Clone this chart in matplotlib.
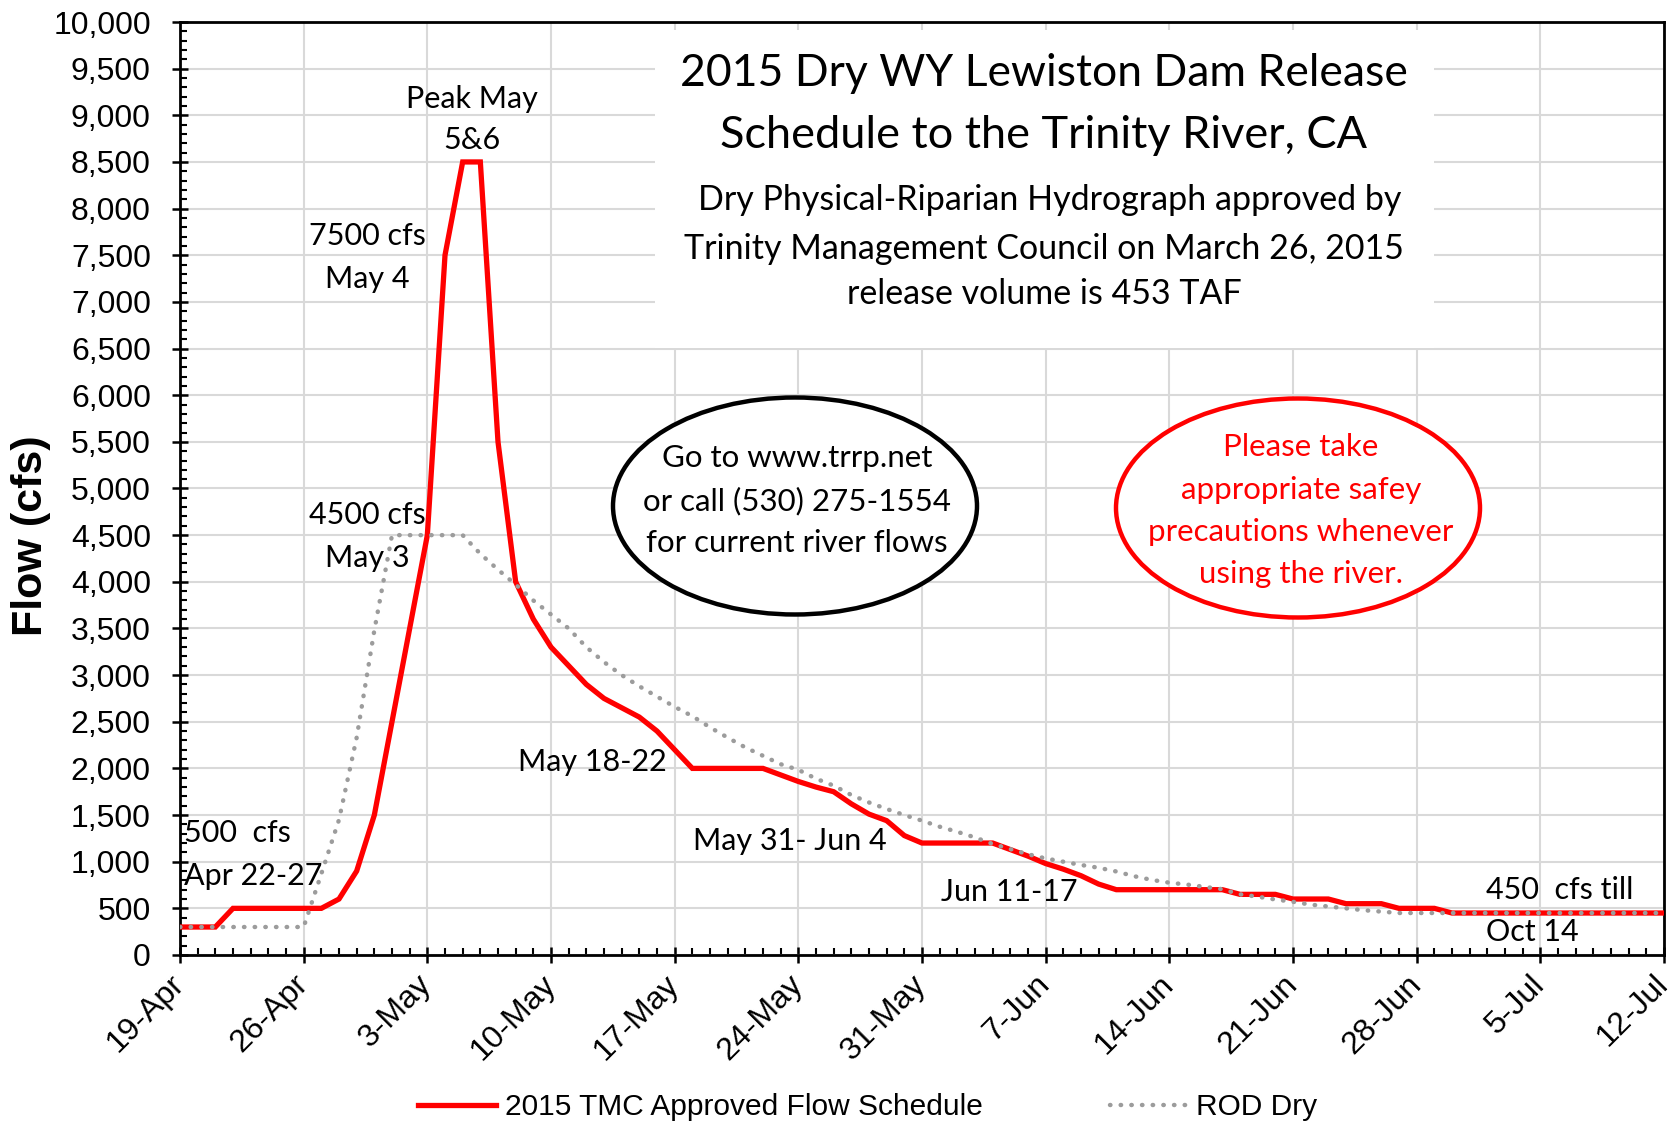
import matplotlib
matplotlib.use("Agg")
import matplotlib.pyplot as plt
import matplotlib.dates as mdates
from matplotlib.patches import Ellipse, Rectangle
from matplotlib.ticker import MultipleLocator, FuncFormatter
import pandas as pd

# 2015 TMC approved schedule (breakpoints, cfs)
red_dates = ["2015-04-19", "2015-04-21", "2015-04-22", "2015-04-27", "2015-04-28",
             "2015-04-29", "2015-04-30", "2015-05-01", "2015-05-02", "2015-05-03",
             "2015-05-04", "2015-05-05", "2015-05-06", "2015-05-07", "2015-05-08",
             "2015-05-09", "2015-05-10", "2015-05-11", "2015-05-12", "2015-05-13",
             "2015-05-14", "2015-05-15", "2015-05-16", "2015-05-17", "2015-05-18",
             "2015-05-22", "2015-05-23", "2015-05-24", "2015-05-25", "2015-05-26",
             "2015-05-27", "2015-05-28", "2015-05-29", "2015-05-30", "2015-05-31",
             "2015-06-04", "2015-06-05", "2015-06-06", "2015-06-07", "2015-06-08",
             "2015-06-09", "2015-06-10", "2015-06-11", "2015-06-17", "2015-06-18",
             "2015-06-20", "2015-06-21", "2015-06-23", "2015-06-24", "2015-06-26",
             "2015-06-27", "2015-06-29", "2015-06-30", "2015-07-12"]
red_flow = [300, 300, 500, 500, 600,
            900, 1500, 2500, 3500, 4500,
            7500, 8500, 8500, 5500, 4000,
            3600, 3300, 3100, 2900, 2750,
            2650, 2550, 2400, 2200, 2000,
            2000, 1930, 1860, 1800, 1750,
            1620, 1510, 1440, 1280, 1200,
            1200, 1130, 1060, 980, 920,
            850, 760, 700, 700, 650,
            650, 600, 600, 550, 550,
            500, 500, 450, 450]

# ROD Dry hydrograph (cfs)
rod_dates = ["2015-04-19", "2015-04-26", "2015-04-27", "2015-04-28", "2015-04-29",
             "2015-04-30", "2015-05-01", "2015-05-05", "2015-05-06", "2015-05-07",
             "2015-05-08", "2015-05-09", "2015-05-10", "2015-05-11", "2015-05-12",
             "2015-05-13", "2015-05-14", "2015-05-15", "2015-05-16", "2015-05-17",
             "2015-05-18", "2015-05-19", "2015-05-20", "2015-05-21", "2015-05-22",
             "2015-05-23", "2015-05-24", "2015-05-25", "2015-05-26", "2015-05-27",
             "2015-05-28", "2015-05-29", "2015-05-30", "2015-05-31", "2015-06-01",
             "2015-06-02", "2015-06-03", "2015-06-04", "2015-06-05", "2015-06-06",
             "2015-06-07", "2015-06-08", "2015-06-09", "2015-06-10", "2015-06-11",
             "2015-06-12", "2015-06-13", "2015-06-14", "2015-06-15", "2015-06-16",
             "2015-06-17", "2015-06-18", "2015-06-19", "2015-06-20", "2015-06-21",
             "2015-06-22", "2015-06-23", "2015-06-24", "2015-06-25", "2015-06-26",
             "2015-06-27", "2015-07-12"]
rod_flow = [300, 300, 870, 1450, 2330,
            3480, 4500, 4500, 4300, 4130,
            3970, 3800, 3650, 3500, 3300,
            3140, 3000, 2880, 2770, 2660,
            2560, 2440, 2330, 2225, 2135,
            2045, 1985, 1890, 1815, 1715,
            1635, 1565, 1500, 1440, 1375,
            1320, 1260, 1190, 1135, 1080,
            1035, 1000, 965, 935, 895,
            845, 805, 775, 755, 730,
            705, 650, 625, 595, 570,
            540, 520, 500, 480, 465,
            450, 450]

W, H = 1678, 1125
AX_FONT = "Liberation Sans"
TXT_FONT = "Lato"


def fx(px):
    return px / W


def fy(py):
    return 1 - py / H


fig = plt.figure(figsize=(W / 100, H / 100), dpi=100)
ax = fig.add_axes([fx(180), fy(955), fx(1664) - fx(180), fy(22) - fy(955)])

ax.plot(pd.to_datetime(red_dates), red_flow, color="#ff0000", lw=3.8,
        solid_joinstyle="miter", zorder=4, label="2015 TMC Approved Flow Schedule")
ax.plot(pd.to_datetime(rod_dates), rod_flow, color="#9c9c9c", lw=3.2,
        linestyle=(0, (0.1, 2.3)), dash_capstyle="round", zorder=5, label="ROD Dry")

ax.set_xlim(pd.Timestamp("2015-04-19"), pd.Timestamp("2015-07-12"))
ax.set_ylim(0, 10000)

ax.xaxis.set_major_locator(mdates.WeekdayLocator(byweekday=mdates.SU))
ax.xaxis.set_minor_locator(mdates.DayLocator())
ax.xaxis.set_major_formatter(mdates.DateFormatter("%-d-%b"))
ax.yaxis.set_major_locator(MultipleLocator(500))
ax.yaxis.set_minor_locator(MultipleLocator(100))
ax.yaxis.set_major_formatter(FuncFormatter(lambda v, p: f"{int(v):,}"))

ax.grid(True, which="major", color="#d9d9d9", lw=1.5)
ax.set_axisbelow(True)
for s in ax.spines.values():
    s.set_linewidth(2)
ax.tick_params(which="major", direction="inout", length=12, width=1.8, labelsize=23)
ax.tick_params(axis="y", which="major", pad=15)
ax.tick_params(axis="x", which="major", pad=12)
ax.tick_params(which="minor", direction="in", length=5, width=1.5)
for lab in ax.get_yticklabels() + ax.get_xticklabels():
    lab.set_fontfamily(AX_FONT)
plt.setp(ax.get_xticklabels(), rotation=45, ha="right", va="center", rotation_mode="anchor")

ax.set_ylabel("Flow (cfs)", fontsize=31, fontweight="bold", family=AX_FONT)
ax.yaxis.set_label_coords(-0.087, 0.449)

# title block with white background
fig.patches.append(Rectangle((fx(655), fy(348)), fx(1434) - fx(655), fy(30) - fy(348),
                             transform=fig.transFigure, facecolor="white",
                             edgecolor="none", zorder=1))
ax.set_zorder(0)
fig.text(fx(1044), fy(74), "2015 Dry WY Lewiston Dam Release", ha="center", va="center",
         fontsize=32, family=TXT_FONT, zorder=3)
fig.text(fx(1044), fy(136), "Schedule to the Trinity River, CA", ha="center", va="center",
         fontsize=32.5, family=TXT_FONT, zorder=3)
fig.text(fx(1050), fy(200), "Dry Physical-Riparian Hydrograph approved by", ha="center",
         va="center", fontsize=24.5, family=TXT_FONT, zorder=3)
fig.text(fx(1044), fy(249), "Trinity Management Council on March 26, 2015", ha="center",
         va="center", fontsize=24.5, family=TXT_FONT, zorder=3)
fig.text(fx(1044), fy(294), "release volume is 453 TAF", ha="center", va="center",
         fontsize=24.5, family=TXT_FONT, zorder=3)

# info ellipses
fig.patches.append(Ellipse((fx(795), fy(506)), fx(364), 217 / H, transform=fig.transFigure,
                           facecolor="white", edgecolor="black", lw=3.2, zorder=1))
for txt, py in [("Go to www.trrp.net", 458), ("or call (530) 275-1554", 501),
                ("for current river flows", 543)]:
    fig.text(fx(797), fy(py), txt, ha="center", va="center", fontsize=22.5,
             family=TXT_FONT, zorder=3)

fig.patches.append(Ellipse((fx(1298), fy(508)), fx(364), 219 / H, transform=fig.transFigure,
                           facecolor="white", edgecolor="#ff0000", lw=3.2, zorder=1))
for txt, py in [("Please take", 447), ("appropriate safey", 490),
                ("precautions whenever", 532), ("using the river.", 574)]:
    fig.text(fx(1301), fy(py), txt, ha="center", va="center", fontsize=22.5,
             family=TXT_FONT, color="#ff0000", zorder=3)

# annotations (data coordinates)
def note(date, flow, txt, ha="center"):
    ax.text(pd.Timestamp(date), flow, txt, ha=ha, va="center", fontsize=22,
            family=TXT_FONT, zorder=6)

note("2015-05-05 12:00", 9180, "Peak May")
note("2015-05-05 12:00", 8730, "5&6")
note("2015-04-29 14:00", 7710, "7500 cfs")
note("2015-04-29 14:00", 7250, "May 4")
note("2015-04-29 14:00", 4720, "4500 cfs")
note("2015-04-29 14:00", 4260, "May 3")
note("2015-04-19 05:00", 1310, "500  cfs", ha="left")
note("2015-04-19 05:00", 850, "Apr 22-27", ha="left")
note("2015-05-12 08:00", 2070, "May 18-22")
note("2015-05-23 12:00", 1220, "May 31- Jun 4")
note("2015-06-04 22:00", 675, "Jun 11-17")
note("2015-07-01 22:00", 700, "450  cfs till", ha="left")
note("2015-07-01 22:00", 246, "Oct 14", ha="left")

leg = ax.legend(loc="center", bbox_to_anchor=(fx(868), fy(1107)),
                bbox_transform=fig.transFigure, ncol=2, frameon=False,
                prop={"family": AX_FONT, "size": 21.5}, handlelength=2.6,
                handletextpad=0.3, columnspacing=4.25)

fig.savefig("out.png", dpi=100)
